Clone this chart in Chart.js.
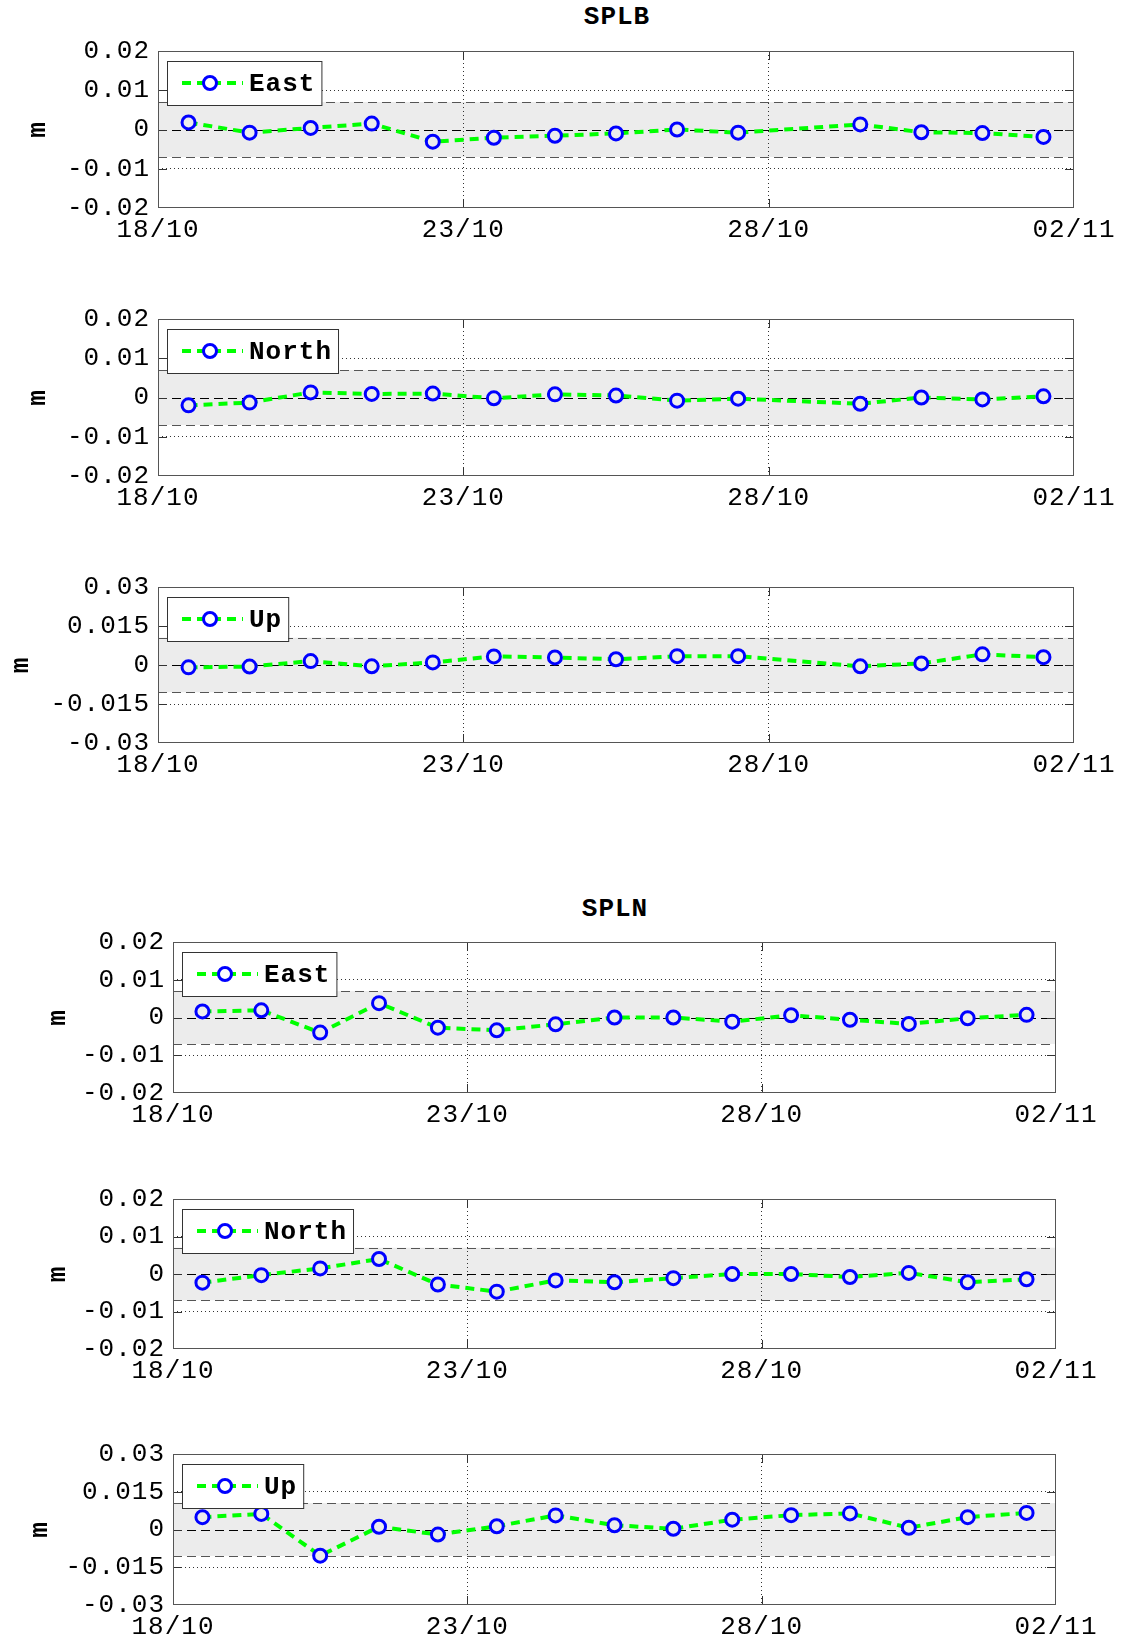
<!DOCTYPE html>
<html lang="en">
<head>
<meta charset="UTF-8">
<title>SPLB / SPLN daily positions</title>
<script src="https://cdn.jsdelivr.net/npm/chart.js"></script>
<style>
  body { margin: 0; background: #fff; width: 1123px; height: 1640px; position: relative; overflow: hidden; }
  canvas { position: absolute; left: 0; }
  .ttl { position: absolute; font: bold 26px "Liberation Mono", monospace; letter-spacing: 1px;
         transform: translate(-50%, -50%); color: #000; white-space: nowrap; }
</style>
</head>
<body>
<div class="ttl" style="left:617px; top:17px">SPLB</div>
<div class="ttl" style="left:615px; top:909px">SPLN</div>

<script>
// ---- data (metres), x = days after 18/10 ----
const xTickVals = [0, 5, 10, 15];
const xTickLabels = ['18/10', '23/10', '28/10', '02/11'];

const yTicksEN = [-0.02, -0.01, 0, 0.01, 0.02];
const yLabelsEN = ['-0.02', '-0.01', '0', '0.01', '0.02'];
const yTicksUp = [-0.03, -0.015, 0, 0.015, 0.03];
const yLabelsUp = ['-0.03', '-0.015', '0', '0.015', '0.03'];

const bandEN = 0.007;
const bandUp = 0.0105;

const splbDays = [0.5, 1.5, 2.5, 3.5, 4.5, 5.5, 6.5, 7.5, 8.5, 9.5, 11.5, 12.5, 13.5, 14.5];
const splbEast = [0.0018, -0.0008, 0.0004, 0.0015, -0.0031, -0.0021, -0.0016, -0.0010, 0.0000, -0.0008, 0.0013, -0.0007, -0.0009, -0.0019];
const splbNorth = [-0.0020, -0.0013, 0.0013, 0.0009, 0.0010, -0.0002, 0.0008, 0.0005, -0.0008, -0.0003, -0.0016, 0.0000, -0.0005, 0.0003];
const splbUp = [-0.0009, -0.0006, 0.0015, -0.0005, 0.0010, 0.0033, 0.0029, 0.0022, 0.0034, 0.0034, -0.0005, 0.0006, 0.0041, 0.0030];

const splnDays = [0.5, 1.5, 2.5, 3.5, 4.5, 5.5, 6.5, 7.5, 8.5, 9.5, 10.5, 11.5, 12.5, 13.5, 14.5];
const splnEast = [0.0016, 0.0019, -0.0040, 0.0038, -0.0027, -0.0034, -0.0018, 0.0000, 0.0000, -0.0011, 0.0006, -0.0006, -0.0017, -0.0002, 0.0007];
const splnNorth = [-0.0023, -0.0003, 0.0015, 0.0040, -0.0028, -0.0047, -0.0017, -0.0022, -0.0011, 0.0000, 0.0000, -0.0008, 0.0003, -0.0022, -0.0014];
const splnUp = [0.0049, 0.0062, -0.0104, 0.0011, -0.0020, 0.0013, 0.0056, 0.0017, 0.0003, 0.0039, 0.0057, 0.0064, 0.0007, 0.0049, 0.0066];

// ---- layout of the six axes (page pixels) ----
const panels = [
  { label: 'East',  days: splbDays, vals: splbEast,  L: 158, R: 1074, T: 51,   B: 208,  yt: yTicksEN, yl: yLabelsEN, band: bandEN, mX: 38 },
  { label: 'North', days: splbDays, vals: splbNorth, L: 158, R: 1074, T: 319,  B: 476,  yt: yTicksEN, yl: yLabelsEN, band: bandEN, mX: 38 },
  { label: 'Up',    days: splbDays, vals: splbUp,    L: 158, R: 1074, T: 587,  B: 743,  yt: yTicksUp, yl: yLabelsUp, band: bandUp, mX: 21 },
  { label: 'East',  days: splnDays, vals: splnEast,  L: 173, R: 1056, T: 942,  B: 1093, yt: yTicksEN, yl: yLabelsEN, band: bandEN, mX: 58 },
  { label: 'North', days: splnDays, vals: splnNorth, L: 173, R: 1056, T: 1199, B: 1349, yt: yTicksEN, yl: yLabelsEN, band: bandEN, mX: 58 },
  { label: 'Up',    days: splnDays, vals: splnUp,    L: 173, R: 1056, T: 1454, B: 1605, yt: yTicksUp, yl: yLabelsUp, band: bandUp, mX: 40 }
];

const FONT = '"Liberation Mono", monospace';
const SPACING = '1px';
const PAD_TOP = 30, XAXIS_H = 48;

function hline(ctx, a, y) {
  y = Math.round(y) + 0.5;
  ctx.beginPath(); ctx.moveTo(a.left, y); ctx.lineTo(a.right, y); ctx.stroke();
}

// matlab style box: grey band, dashed limits, inner ticks, boxed legend
const matlabAxes = {
  id: 'mbox',
  beforeUpdate(chart) { chart.ctx.letterSpacing = SPACING; },
  beforeDraw(chart, args, o) {
    const { ctx, chartArea: a, scales: { y } } = chart;
    ctx.letterSpacing = SPACING;
    const y1 = y.getPixelForValue(o.band), y2 = y.getPixelForValue(-o.band);
    ctx.save();
    ctx.fillStyle = '#ececec';
    ctx.fillRect(a.left, y1, a.right - a.left, y2 - y1);
    ctx.restore();
  },
  beforeDatasetsDraw(chart, args, o) {
    const { ctx, chartArea: a, scales: { x, y } } = chart;
    ctx.save();
    ctx.lineWidth = 1;
    ctx.setLineDash([9, 5]);
    ctx.strokeStyle = '#555';
    hline(ctx, a, y.getPixelForValue(o.band));
    hline(ctx, a, y.getPixelForValue(-o.band));
    ctx.strokeStyle = '#000';
    hline(ctx, a, y.getPixelForValue(0));
    ctx.setLineDash([]);

    // ticks pointing inwards
    ctx.strokeStyle = '#333';
    ctx.beginPath();
    y.ticks.forEach(t => {
      if (t.value === y.min || t.value === y.max) return;
      const py = Math.round(y.getPixelForValue(t.value)) + 0.5;
      ctx.moveTo(a.left, py); ctx.lineTo(a.left + 9, py);
      ctx.moveTo(a.right, py); ctx.lineTo(a.right - 9, py);
    });
    x.ticks.forEach(t => {
      if (t.value === x.min || t.value === x.max) return;
      const px = Math.round(x.getPixelForValue(t.value)) + 0.5;
      ctx.moveTo(px, a.bottom); ctx.lineTo(px, a.bottom - 9);
      ctx.moveTo(px, a.top); ctx.lineTo(px, a.top + 9);
    });
    ctx.stroke();

    ctx.strokeStyle = '#555';
    ctx.strokeRect(a.left + 0.5, a.top + 0.5, a.right - a.left - 1, a.bottom - a.top - 1);
    ctx.restore();
  },
  afterDatasetsDraw(chart, args, o) {
    const { ctx, chartArea: a } = chart;
    ctx.save();
    ctx.font = 'bold 26px ' + FONT;
    const tw = ctx.measureText(o.label).width;
    const bx = a.left + 9, by = a.top + 10, bw = 82 + tw + 6, bh = 44;
    const cy = by + bh / 2;
    ctx.fillStyle = '#fff';
    ctx.fillRect(bx, by, bw, bh);
    ctx.strokeStyle = '#333';
    ctx.lineWidth = 1;
    ctx.strokeRect(bx + 0.5, by + 0.5, bw, bh);

    ctx.strokeStyle = '#00ff00';
    ctx.lineWidth = 4;
    ctx.setLineDash([9, 6]);
    ctx.beginPath(); ctx.moveTo(bx + 15, cy); ctx.lineTo(bx + 76, cy); ctx.stroke();
    ctx.setLineDash([]);
    ctx.fillStyle = '#fff';
    ctx.strokeStyle = '#0000ff';
    ctx.lineWidth = 3;
    ctx.beginPath(); ctx.arc(bx + 43, cy, 6.5, 0, Math.PI * 2); ctx.fill(); ctx.stroke();

    ctx.fillStyle = '#000';
    ctx.textBaseline = 'middle';
    ctx.textAlign = 'left';
    ctx.fillText(o.label, bx + 82, cy + 1);
    ctx.restore();
  }
};

function makePanel(p) {
  const c = document.createElement('canvas');
  c.width = 1123;
  c.height = (p.B - p.T) + PAD_TOP + XAXIS_H;
  c.style.top = (p.T - PAD_TOP) + 'px';
  document.body.appendChild(c);

  const ymin = p.yt[0], ymax = p.yt[p.yt.length - 1];
  const tickFont = { family: FONT, size: 26 };

  new Chart(c, {
    type: 'line',
    data: {
      datasets: [{
        label: p.label,
        data: p.days.map((d, i) => ({ x: d, y: p.vals[i] })),
        borderColor: '#00ff00',
        borderWidth: 4,
        borderDash: [9, 6],
        tension: 0,
        pointRadius: 6.5,
        pointBorderWidth: 3,
        pointBorderColor: '#0000ff',
        pointBackgroundColor: ctx => (ctx.raw && Math.abs(ctx.raw.y) < p.band ? '#ececec' : '#fff')
      }]
    },
    options: {
      responsive: false,
      animation: false,
      events: [],
      layout: { padding: { left: 0, right: 1123 - p.R, top: PAD_TOP, bottom: 0 } },
      plugins: {
        legend: { display: false },
        tooltip: { enabled: false },
        mbox: { band: p.band, label: p.label }
      },
      scales: {
        x: {
          type: 'linear', min: 0, max: 15,
          afterBuildTicks: s => { s.ticks = xTickVals.map(v => ({ value: v })); },
          afterFit: s => { s.height = XAXIS_H; },
          ticks: {
            callback: (v, i) => xTickLabels[i],
            maxRotation: 0, autoSkip: false, padding: 7, color: '#000', font: tickFont
          },
          grid: {
            drawTicks: false, lineWidth: 1,
            color: ctx => (ctx.tick && (ctx.tick.value === 0 || ctx.tick.value === 15) ? 'rgba(0,0,0,0)' : '#333')
          },
          border: { display: false, dash: [1, 3] }
        },
        y: {
          min: ymin, max: ymax,
          afterBuildTicks: s => { s.ticks = p.yt.map(v => ({ value: v })); },
          afterFit: s => { s.width = p.L; },
          ticks: {
            callback: (v, i) => p.yl[i],
            padding: 8, color: '#000', font: tickFont
          },
          title: {
            display: true, text: 'm', color: '#000',
            font: { family: FONT, size: 26, weight: 'bold', lineHeight: 1 },
            padding: { top: p.mX - 13, bottom: 0 }
          },
          grid: {
            drawTicks: false, lineWidth: 1,
            color: ctx => {
              const v = ctx.tick ? ctx.tick.value : 0;
              return (v === ymin || v === ymax || v === 0) ? 'rgba(0,0,0,0)' : '#333';
            }
          },
          border: { display: false, dash: [1, 3] }
        }
      }
    },
    plugins: [matlabAxes]
  });
}

panels.forEach(makePanel);
</script>
</body>
</html>
